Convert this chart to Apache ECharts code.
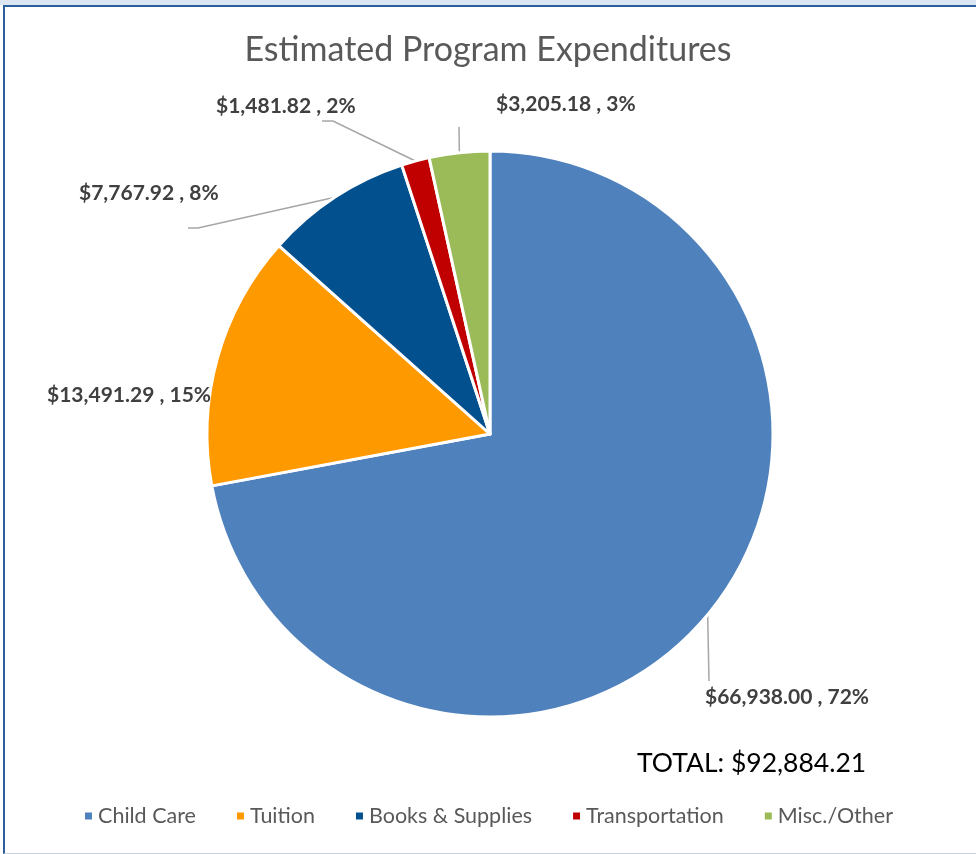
<!DOCTYPE html>
<html>
<head>
<meta charset="utf-8">
<script src="https://cdn.jsdelivr.net/npm/echarts@6/dist/echarts.min.js"></script>
<style>
  body { margin: 0; background: #fff; }
  #strip { position: absolute; left: 0; top: 0; width: 976px; height: 5px; background: #dce6f2; }
  #frame { position: absolute; left: 3px; top: 5px; width: 971px; height: 846px;
           border-top: 2px solid #2b5f9c; border-left: 2px solid #2b5f9c;
           border-right: 1px solid #c9d3de; border-bottom: 1px solid #c9d3de; pointer-events: none; }
  #main { position: absolute; left: 0; top: 0; width: 976px; height: 854px; }
</style>
</head>
<body>
<div id="strip"></div>
<div id="main"></div>
<div id="frame"></div>
<script>
var categories = ['Child Care', 'Tuition', 'Books & Supplies', 'Transportation', 'Misc./Other'];
var amounts = [66938.00, 13491.29, 7767.92, 1481.82, 3205.18];
var colors = ['#4f81bd', '#ff9900', '#03508f', '#c00000', '#9bbb59'];
var totalText = 'TOTAL: $92,884.21';

// label placement (left edge x, middle y) and leader line bends
var labelPlace = [
  { x: 705, y: 697, line: [[709, 681]] },
  { x: 47, y: 395, line: null },
  { x: 79, y: 193, line: [[198, 228], [188, 228]] },
  { x: 216, y: 106, line: [[333, 121], [322, 121]] },
  { x: 496, y: 104, line: [[459, 127]] }
];

var myChart = echarts.init(document.getElementById('main'));

var pieData = [];
for (var i = 0; i < categories.length; i++) {
  pieData.push({ name: categories[i], value: amounts[i], itemStyle: { color: colors[i] } });
}

function money(v) {
  return '$' + v.toLocaleString('en-US', { minimumFractionDigits: 2, maximumFractionDigits: 2 });
}

var option = {
  animation: false,
  title: {
    text: 'Estimated Program Expenditures',
    left: 'center',
    top: 28,
    textStyle: { fontFamily: 'Lato', fontWeight: 'normal', fontSize: 34, color: '#595959' }
  },
  legend: {
    bottom: 22,
    left: 'center',
    icon: 'rect',
    itemWidth: 9,
    itemHeight: 9,
    itemGap: 39,
    textStyle: { fontFamily: 'Lato', fontSize: 21.5, color: '#595959' },
    data: categories
  },
  graphic: [{
    type: 'text',
    left: 637,
    top: 750,
    style: { text: totalText, font: '26.5px Lato', fill: '#000' }
  }],
  series: [{
    type: 'pie',
    center: [490, 434],
    radius: 283,
    startAngle: 90,
    clockwise: true,
    itemStyle: { borderColor: '#fff', borderWidth: 3 },
    label: {
      show: true,
      position: 'outside',
      overflow: 'none',
      width: 300,
      fontFamily: 'Lato',
      fontWeight: 'bold',
      fontSize: 21,
      color: '#404040',
      formatter: function (p) {
        return money(p.value) + ' , ' + Math.round(p.percent) + '%';
      }
    },
    labelLine: { show: true, lineStyle: { color: '#a6a6a6', width: 1.5 } },
    labelLayout: function (params) {
      var pl = labelPlace[params.dataIndex];
      var res = { x: pl.x, y: pl.y, align: 'left', verticalAlign: 'middle' };
      if (pl.line && params.labelLinePoints) {
        res.labelLinePoints = [params.labelLinePoints[0]].concat(pl.line);
      } else {
        res.labelLinePoints = [[0, 0], [0, 0], [0, 0]];
      }
      return res;
    },
    data: pieData
  }]
};

myChart.setOption(option);
</script>
</body>
</html>
